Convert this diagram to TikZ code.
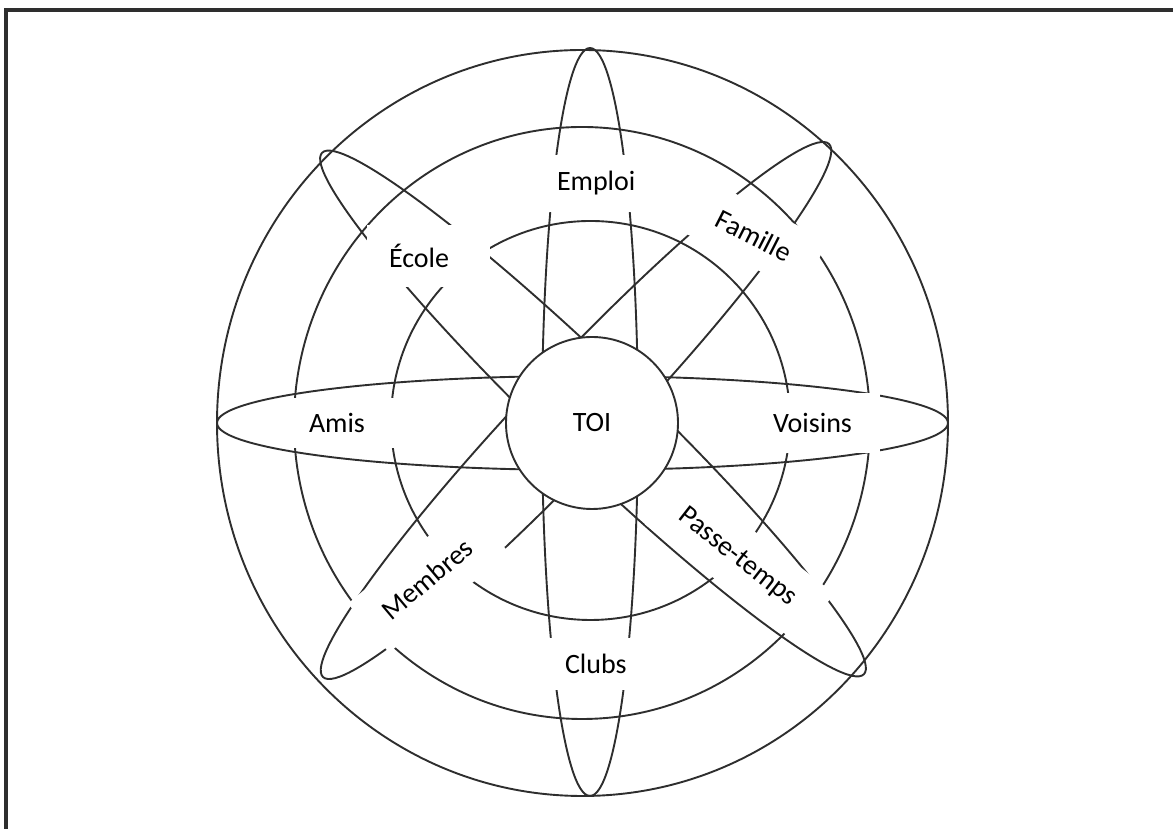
\documentclass[tikz,border=0pt]{standalone}
\usepackage{fontspec}
\setmainfont{Carlito}
\usepackage{tikz}
\definecolor{ringgray}{HTML}{2E2E2E}

\tikzset{
  ring/.style={draw=ringgray, line width=1.9pt},
  tag/.style={fill=white, inner ysep=0pt, inner xsep=22pt, align=left,
    font=\fontsize{28}{32}\selectfont},
}

\begin{document}
\begin{tikzpicture}[x=1pt, y=1pt]
    \useasboundingbox (0,0) rectangle (1173,829);
    \draw[ringgray, line width=3.4pt] (6,-5) -- (6,819) -- (1180,819);

    % rings
    \draw[ring] (582.5,406) ellipse [x radius=365.5, y radius=373];
    \draw[ring] (582,406) ellipse [x radius=288, y radius=296];
    \draw[ring] (590.5,408.5) circle [radius=199.5];

    % orbits
    \draw[ring] (590,407) ellipse [x radius=48, y radius=374];
    \draw[ring] (582.5,406) ellipse [x radius=365.5, y radius=47];
    \draw[ring, rotate around={-43.9:(593,415.5)}] (593,415.5) ellipse [x radius=376, y radius=47];
    \draw[ring, rotate around={46.5:(576,418.5)}] (576,418.5) ellipse [x radius=367.5, y radius=47];

    \node[ring, circle, fill=white, minimum size=172pt, inner sep=0pt,
      font=\fontsize{28}{32}\selectfont] (toi) at (592,406) {TOI};

    % labels
    \node[tag, text width=86pt, minimum height=57pt] (emploi) at (600,645.5) {Emploi};
    \node[tag, text width=79pt, minimum height=62pt] (ecole) at (428.5,573) {École};
    \node[tag, text width=87pt, minimum height=58pt, rotate=-27] (famille) at (756.5,592) {Famille};
    \node[tag, text width=114pt, minimum height=50pt] (amis) at (366,406) {Amis};
    \node[tag, text width=85pt, minimum height=60pt] (voisins) at (815.5,406) {Voisins};
    \node[tag, text width=112pt, minimum height=64pt, rotate=40] (membres) at (428.3,251) {Membres};
    \node[tag, text width=148pt, minimum height=62pt, rotate=-38] (passetemps) at (739.6,270) {Passe-temps};
    \node[tag, text width=76pt, minimum height=52pt] (clubs) at (603,165) {Clubs};
\end{tikzpicture}
\end{document}
